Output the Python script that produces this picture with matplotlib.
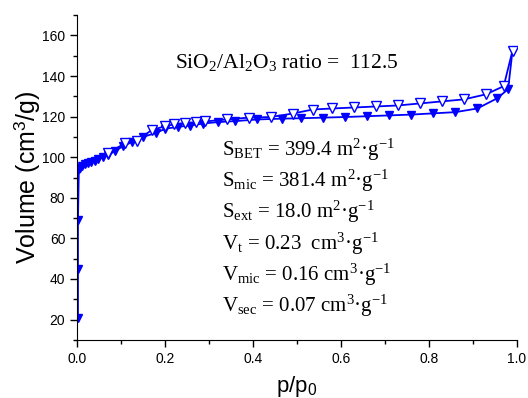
import numpy as np
import matplotlib.pyplot as plt
from matplotlib.ticker import MultipleLocator

plt.rcParams['mathtext.fontset'] = 'custom'
plt.rcParams['mathtext.rm'] = 'Liberation Serif'
plt.rcParams['mathtext.it'] = 'Liberation Serif:italic'
plt.rcParams['mathtext.sf'] = 'Liberation Sans'

# Adsorption branch (filled triangles)
ads_p = [0.002, 0.002, 0.002, 0.004, 0.007, 0.012, 0.018, 0.025, 0.032, 0.040,
         0.048, 0.058, 0.070, 0.086, 0.105, 0.125, 0.150, 0.180, 0.200, 0.230,
         0.257, 0.287, 0.320, 0.360, 0.410, 0.466, 0.510, 0.560, 0.610, 0.660,
         0.710, 0.760, 0.810, 0.860, 0.910, 0.955, 0.980, 0.990]
ads_v = [21, 45, 69, 94, 94.5, 95.5, 96.5, 97, 97.5, 98,
         99, 100, 101, 103, 105.5, 107.5, 110, 112, 114, 115,
         115.6, 116.6, 117.3, 117.8, 118.6, 119, 119.2, 119.5, 119.8, 120.2,
         120.6, 121, 121.6, 122.2, 124, 129, 133.5, 152.5]

# Desorption branch (open triangles)
des_p = [0.990, 0.970, 0.930, 0.880, 0.830, 0.780, 0.730, 0.680, 0.630, 0.580,
         0.536, 0.490, 0.440, 0.390, 0.340, 0.290, 0.270, 0.245, 0.220, 0.200,
         0.170, 0.136, 0.110, 0.070]
des_v = [152.5, 135, 131, 128.5, 127.5, 126.5, 125.5, 125, 124.5, 124,
         123.5, 121.5, 119.8, 119.5, 118.6, 117.6, 117.2, 116.8, 116.2, 115.2,
         113.5, 108, 107, 102]

stats = [r"S$_{\mathrm{BET}}$ = 399.4 m$^{2}$·g$^{\mathrm{-1}}$",
         r"S$_{\mathrm{mic}}$ = 381.4 m$^{2}$·g$^{\mathrm{-1}}$",
         r"S$_{\mathrm{ext}}$ = 18.0 m$^{2}$·g$^{\mathrm{-1}}$",
         r"V$_{\mathrm{t}}$ = 0.23  cm$^{3}$·g$^{\mathrm{-1}}$",
         r"V$_{\mathrm{mic}}$ = 0.16 cm$^{3}$·g$^{\mathrm{-1}}$",
         r"V$_{\mathrm{sec}}$ = 0.07 cm$^{3}$·g$^{\mathrm{-1}}$"]

fig = plt.figure(figsize=(5.28, 3.98), dpi=100)
ax = fig.add_axes([0.146, 0.146, 0.833, 0.816])

ax.plot(ads_p, ads_v, color='#0000ff', lw=1.3, marker='v', ms=6,
        mfc='#0000ff', mec='#0000ff', zorder=2)
ax.plot(des_p, des_v, color='#0000ff', lw=1.3, marker='v', ms=7,
        mfc='white', mec='#0000ff', mew=1.0, zorder=3)

ax.set_xlim(0, 1.0)
ax.set_ylim(10, 170)
ax.xaxis.set_major_locator(MultipleLocator(0.2))
ax.xaxis.set_minor_locator(MultipleLocator(0.1))
ax.yaxis.set_major_locator(MultipleLocator(20))
ax.yaxis.set_minor_locator(MultipleLocator(10))
ax.set_yticks(np.arange(20, 161, 20))
ax.tick_params(which='major', direction='out', length=5, width=1, labelsize=10)
ax.tick_params(which='minor', direction='out', length=3, width=1)
for lbl in ax.get_xticklabels() + ax.get_yticklabels():
    lbl.set_fontfamily('Liberation Sans')
ax.spines['top'].set_visible(False)
ax.spines['right'].set_visible(False)

ax.set_xlabel(r"p/p$_{\mathsf{0}}$", fontsize=16, fontfamily='Liberation Sans',
              labelpad=6)
ax.set_ylabel(r"Volume (cm$^{\mathsf{3}}$/g)", fontsize=18,
              fontfamily='Liberation Sans', labelpad=0)

ax.text(0.222, 0.855, r"SiO$_{2}$/Al$_{2}$O$_{3}$ ratio =  112.5",
        transform=ax.transAxes, fontsize=15.5, fontfamily='Liberation Serif',
        va='center', ha='left')
for i, s in enumerate(stats):
    ax.text(0.330, 0.585 - i * 0.096, s, transform=ax.transAxes, fontsize=15,
            fontfamily='Liberation Serif', va='center', ha='left')

fig.savefig('out.png', dpi=100)
